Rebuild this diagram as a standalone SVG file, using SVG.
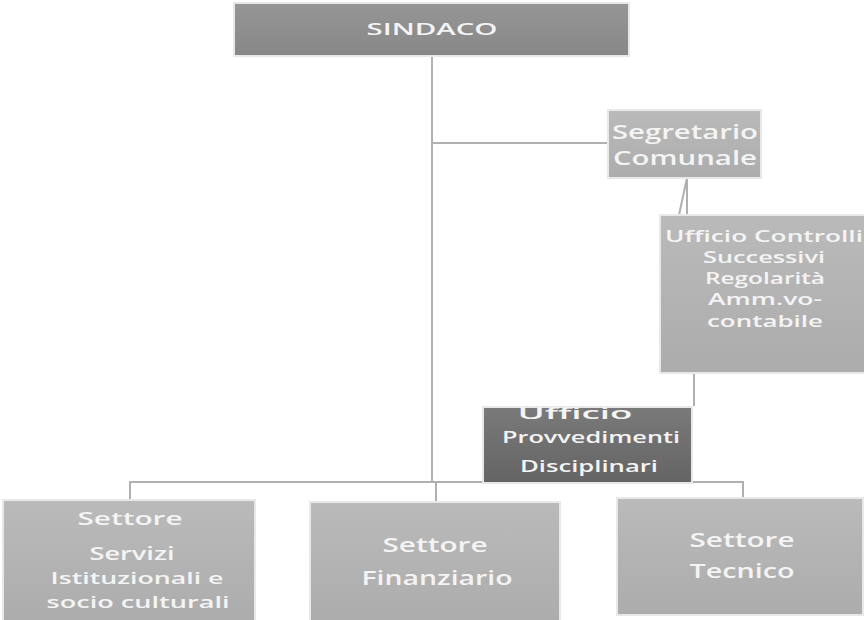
<svg xmlns="http://www.w3.org/2000/svg" width="864" height="620" viewBox="0 0 864 620">
<style>
.c{stroke:#b0b0b0;stroke-width:2;fill:none}
.b{stroke:#e8e8e8;stroke-width:2}
.t{font-family:"Open Sans","DejaVu Sans",sans-serif;fill:#f4f4f4;text-anchor:middle;font-weight:600}
</style>
<defs>
<linearGradient id="gDark" x1="0" y1="0" x2="0" y2="1"><stop offset="0" stop-color="#7a7a7a"/><stop offset="1" stop-color="#646464"/></linearGradient>
<linearGradient id="gMid" x1="0" y1="0" x2="0" y2="1"><stop offset="0" stop-color="#969696"/><stop offset="1" stop-color="#878787"/></linearGradient>
<linearGradient id="gLight" x1="0" y1="0" x2="0" y2="1"><stop offset="0" stop-color="#bababa"/><stop offset="1" stop-color="#acacac"/></linearGradient>
<clipPath id="clipProv"><rect x="483" y="407" width="209" height="76"/></clipPath>
</defs>
<rect width="864" height="620" fill="#ffffff"/>
<g id="connectors">
<line class="c" x1="432" y1="56" x2="432" y2="483"/>
<line class="c" x1="432" y1="143" x2="608" y2="143"/>
<line class="c" x1="687" y1="178" x2="679" y2="215"/>
<line class="c" x1="687" y1="178" x2="687" y2="215"/>
<line class="c" x1="694" y1="373" x2="694" y2="406"/>
<polyline class="c" points="130,500 130,482 743,482 743,498"/>
<polyline class="c" points="432,482 436,482 436,502"/>
</g>
<g id="sindaco">
<rect class="b" x="234" y="3" width="395" height="53" fill="url(#gMid)"/>
<text class="t" x="432" y="35" font-size="17" textLength="131" lengthAdjust="spacingAndGlyphs">SINDACO</text>
</g>
<g id="segretario">
<rect class="b" x="608" y="110" width="153" height="68" fill="url(#gLight)"/>
<text class="t" x="685" y="139" font-size="20" textLength="146" lengthAdjust="spacingAndGlyphs">Segretario</text>
<text class="t" x="685" y="165" font-size="20" textLength="144" lengthAdjust="spacingAndGlyphs">Comunale</text>
</g>
<g id="controlli">
<rect class="b" x="660" y="215" width="206" height="158" fill="url(#gLight)"/>
<text class="t" x="764" y="242" font-size="15.5" textLength="198" lengthAdjust="spacingAndGlyphs">Ufficio Controlli</text>
<text class="t" x="764" y="263" font-size="15.5" textLength="122" lengthAdjust="spacingAndGlyphs">Successivi</text>
<text class="t" x="765" y="284" font-size="15.5" textLength="120" lengthAdjust="spacingAndGlyphs">Regolarità</text>
<text class="t" x="765" y="305" font-size="15.5" textLength="114" lengthAdjust="spacingAndGlyphs">Amm.vo-</text>
<text class="t" x="765" y="327" font-size="15.5" textLength="116" lengthAdjust="spacingAndGlyphs">contabile</text>
</g>
<g id="provvedimenti">
<rect class="b" x="483" y="407" width="209" height="76" fill="url(#gDark)"/>
<g clip-path="url(#clipProv)">
<text class="t" x="575" y="419" font-size="17" textLength="115" lengthAdjust="spacingAndGlyphs">Ufficio</text>
</g>
<text class="t" x="591" y="443" font-size="17" textLength="178" lengthAdjust="spacingAndGlyphs">Provvedimenti</text>
<text class="t" x="589" y="472" font-size="17" textLength="138" lengthAdjust="spacingAndGlyphs">Disciplinari</text>
</g>
<g id="settore-servizi">
<rect class="b" x="3" y="500" width="252" height="124" fill="url(#gLight)"/>
<text class="t" x="130" y="525" font-size="18" textLength="105" lengthAdjust="spacingAndGlyphs">Settore</text>
<text class="t" x="132" y="560" font-size="18" textLength="85" lengthAdjust="spacingAndGlyphs">Servizi</text>
<text class="t" x="137" y="584" font-size="17" textLength="173" lengthAdjust="spacingAndGlyphs">Istituzionali e</text>
<text class="t" x="138" y="608" font-size="17" textLength="183" lengthAdjust="spacingAndGlyphs">socio culturali</text>
</g>
<g id="settore-finanziario">
<rect class="b" x="310" y="502" width="250" height="122" fill="url(#gLight)"/>
<text class="t" x="435" y="552" font-size="19" textLength="105" lengthAdjust="spacingAndGlyphs">Settore</text>
<text class="t" x="437" y="585" font-size="19" textLength="151" lengthAdjust="spacingAndGlyphs">Finanziario</text>
</g>
<g id="settore-tecnico">
<rect class="b" x="617" y="498" width="246" height="117" fill="url(#gLight)"/>
<text class="t" x="742" y="547" font-size="19" textLength="105" lengthAdjust="spacingAndGlyphs">Settore</text>
<text class="t" x="742" y="578" font-size="19" textLength="105" lengthAdjust="spacingAndGlyphs">Tecnico</text>
</g>
</svg>
